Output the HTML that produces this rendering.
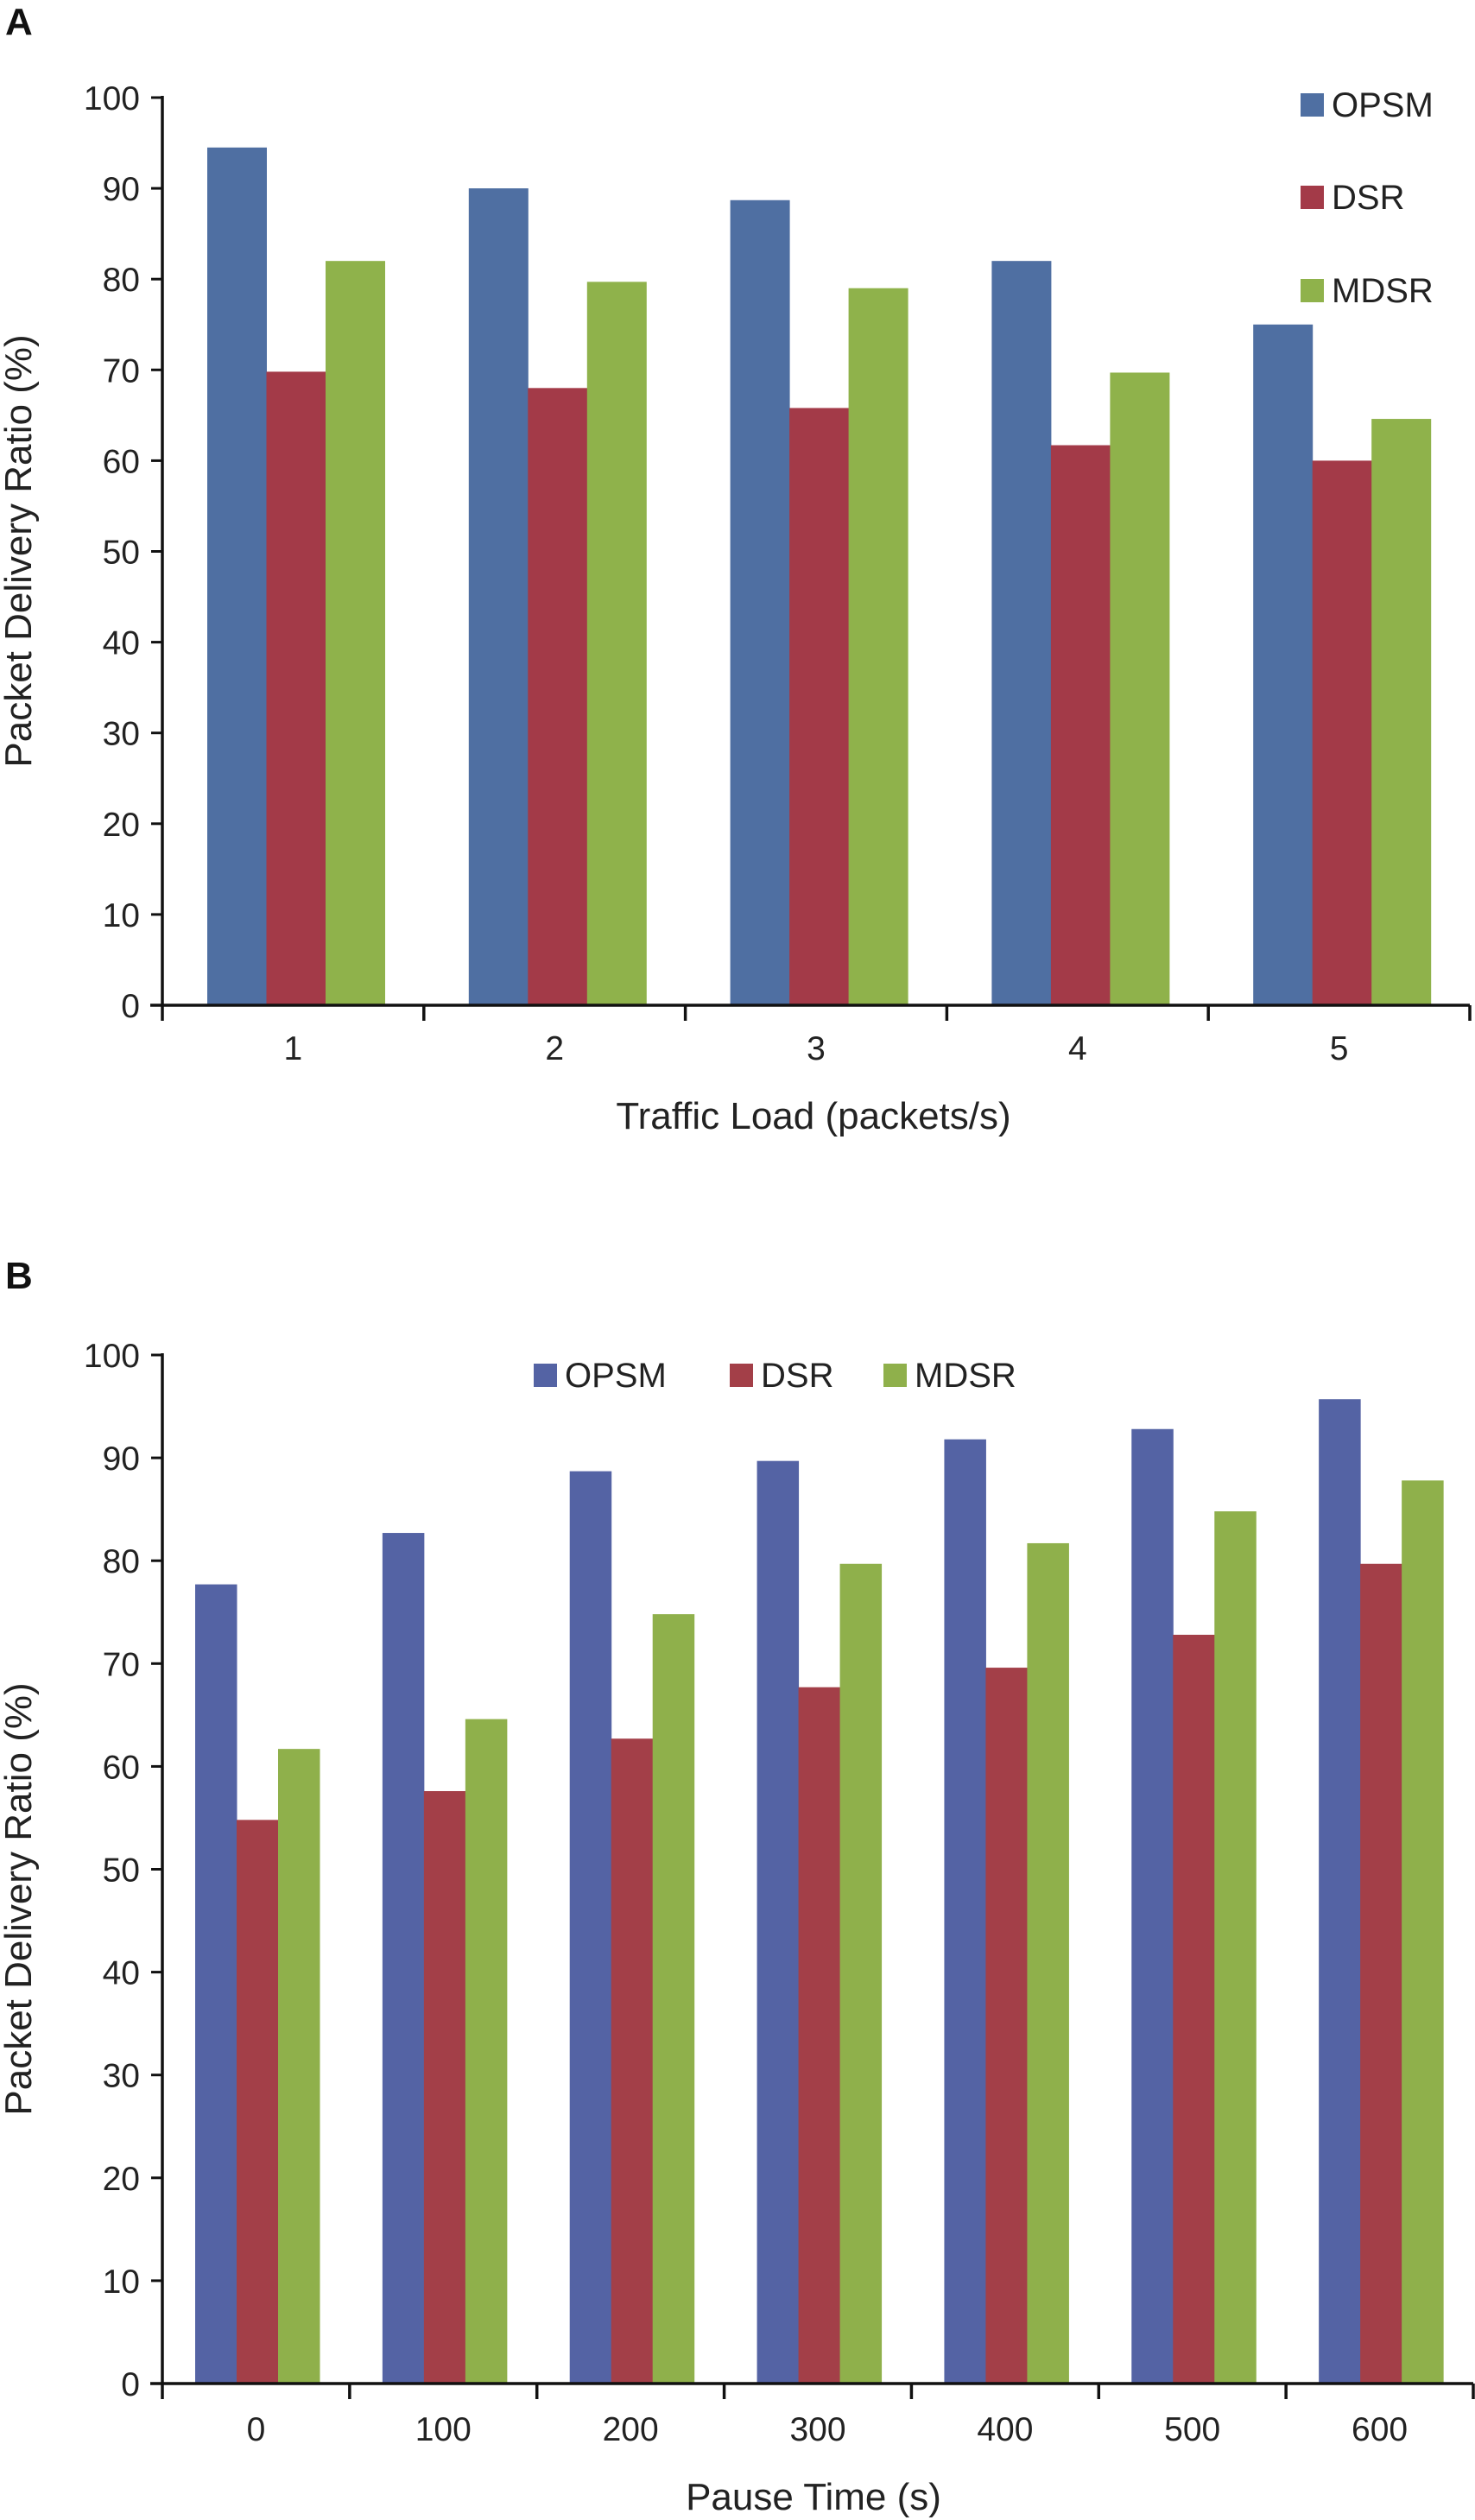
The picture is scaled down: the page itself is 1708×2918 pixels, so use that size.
<!DOCTYPE html>
<html><head><meta charset="utf-8"><style>
html,body{margin:0;padding:0;background:#fff;}
svg{display:block;font-family:"Liberation Sans",sans-serif;}
</style></head><body>
<svg id="svg" width="1708" height="2918" viewBox="0 0 1708 2918" xmlns="http://www.w3.org/2000/svg"></svg>
<script>
const catsA = ["1","2","3","4","5"];
const opsmA = [94.5, 90, 88.7, 82, 75];
const dsrA  = [69.8, 68, 65.8, 61.7, 60];
const mdsrA = [82, 79.7, 79, 69.7, 64.6];
const catsB = ["0","100","200","300","400","500","600"];
const opsmB = [77.7, 82.7, 88.7, 89.7, 91.8, 92.8, 95.7];
const dsrB  = [54.8, 57.6, 62.7, 67.7, 69.6, 72.8, 79.7];
const mdsrB = [61.7, 64.6, 74.8, 79.7, 81.7, 84.8, 87.8];
const yTicks = [0,10,20,30,40,50,60,70,80,90,100];
const seriesNames = ["OPSM","DSR","MDSR"];

const NS="http://www.w3.org/2000/svg";
const svg=document.getElementById('svg');
function mk(tag,attrs,parent,text){const e=document.createElementNS(NS,tag);for(const k in attrs)e.setAttribute(k,attrs[k]);if(text!==undefined)e.textContent=text;(parent||svg).appendChild(e);return e;}

function chart(cfg){
  const g=mk('g',{});
  
  
  const y=v=>cfg.y0-(v/100)*(cfg.y0-cfg.y100);
  const cw=(cfg.xEnd-cfg.x0)/cfg.cats.length;
  const x=i=>cfg.x0+i*cw;
  const panel=mk('text',{x:6,y:cfg.panelY,'font-size':44,'font-weight':'bold',fill:'#111'},g,cfg.panel);
  
  
  // bars
  cfg.series.forEach((s,si)=>{
    s.forEach((v,i)=>{
      const r=mk('rect',{x:x(i)+cfg.off+si*cfg.bw,y:y(v),width:cfg.bw+0.5,height:y(0)-y(v),fill:cfg.colors[si]},g);
      
      
    });
  });
  // axes
  const ya=mk('line',{x1:cfg.x0,y1:cfg.y100-2,x2:cfg.x0,y2:y(0)+18,stroke:'#111','stroke-width':3.5},g);
  
  
  const xa=mk('line',{x1:cfg.x0-14,y1:y(0),x2:cfg.xEnd,y2:y(0),stroke:'#111','stroke-width':3.5},g);
  
  
  yTicks.forEach(t=>{
    mk('line',{x1:cfg.x0-13,y1:y(t),x2:cfg.x0,y2:y(t),stroke:'#111','stroke-width':3},g);
    const tl=mk('text',{x:cfg.x0-26,y:y(t)+14,'font-size':39,'text-anchor':'end',fill:'#222'},g,String(t));
    
    
  });
  for(let i=1;i<=cfg.cats.length;i++){
    mk('line',{x1:x(i),y1:y(0),x2:x(i),y2:y(0)+18,stroke:'#111','stroke-width':3.5},g);
  }
  cfg.cats.forEach((c,i)=>{
    const t=mk('text',{x:x(i)+cw/2,y:cfg.xLabY,'font-size':39,'text-anchor':'middle',fill:'#222'},g,c);
    
    
  });
  const xt=mk('text',{x:cfg.xTitleX,y:cfg.xTitleY,'font-size':44,'text-anchor':'middle',fill:'#222'},g,cfg.xTitle);
  
  
  const yt=mk('text',{x:0,y:0,'font-size':44,'text-anchor':'middle',fill:'#222',transform:`translate(36,${cfg.yTitleY}) rotate(-90)`},g,'Packet Delivery Ratio (%)');
  
  
  cfg.legend.forEach((L,si)=>{
    const sq=mk('rect',{x:L[0],y:L[1]-13,width:27,height:27,fill:cfg.colors[si]},g);
    
    
    const lt=mk('text',{x:L[0]+36,y:L[1]+14,'font-size':40,fill:'#222'},g,seriesNames[si]);
    
    
  });
}

chart({name:'chart-a',panel:'A',panelY:40,x0:188,xEnd:1702,y0:1164,y100:113,cats:catsA,
  series:[opsmA,dsrA,mdsrA],colors:['#4f6fa2','#a33a48','#8fb24b'],off:52,bw:68.5,
  xLabY:1227,xTitleX:942,xTitleY:1307,xTitle:'Traffic Load (packets/s)',yTitleY:638,
  legend:[[1506,121],[1506,228],[1506,336]]});
chart({name:'chart-b',panel:'B',panelY:1492,x0:188,xEnd:1706,y0:2760,y100:1569,cats:catsB,
  series:[opsmB,dsrB,mdsrB],colors:['#5463a4','#a33f48','#8fb04b'],off:38,bw:48,
  xLabY:2826,xTitleX:942,xTitleY:2906,xTitle:'Pause Time (s)',yTitleY:2199,
  legend:[[618,1592],[845,1592],[1023,1592]]});
</script>
</body></html>
